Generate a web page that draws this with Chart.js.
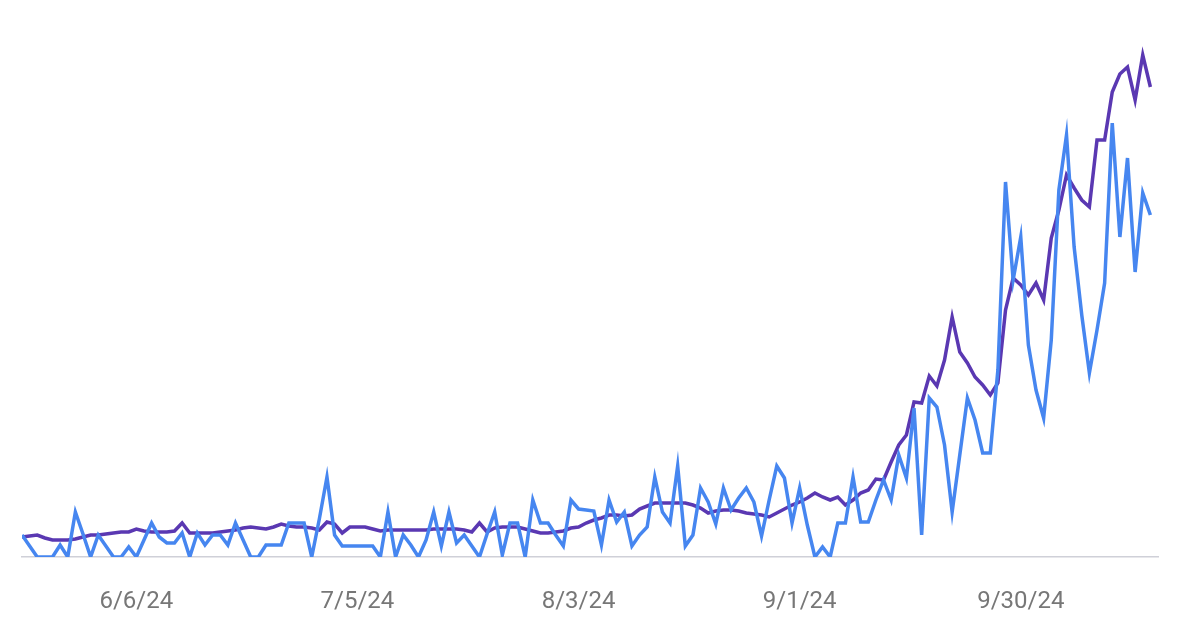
<!DOCTYPE html>
<html>
<head>
<meta charset="utf-8">
<script src="https://cdn.jsdelivr.net/npm/chart.js@4.4.1/dist/chart.umd.min.js"></script>
<style>
  html, body { margin: 0; padding: 0; background: #fff; }
  #wrap { width: 1184px; height: 638px; }
</style>
</head>
<body>
<div id="wrap"><canvas id="chart" width="1184" height="638"></canvas></div>
<script>
// Daily categories: 5/22/24 .. 10/17/24
const startDate = new Date(2024, 4, 22);
const dayCount = 149;
const dates = [];
for (let i = 0; i < dayCount; i++) {
    const d = new Date(startDate);
    d.setDate(d.getDate() + i);
    dates.push(`${d.getMonth() + 1}/${d.getDate()}/${String(d.getFullYear()).slice(2)}`);
}

// Dates shown on the x axis
const tickLabels = ['6/6/24', '7/5/24', '8/3/24', '9/1/24', '9/30/24'];

// Blue series (daily values)
const blueSeries = [
    22, 11, 0, 0, 0, 12, 0, 45, 23, 0,
    22, 11, 0, 0, 10, 0, 17, 34, 20, 14,
    14, 24, 0, 24, 12, 22, 22, 12, 34, 17,
    0, 0, 12, 12, 12, 34, 34, 34, 0, 38,
    80, 22, 11, 11, 11, 11, 11, 0, 45, 0,
    22, 12, 0, 17, 45, 11, 45, 14, 22, 11,
    0, 23, 45, 2, 34, 34, 0, 57, 34, 34,
    22, 11, 57, 48, 47, 46, 12, 57, 35, 45,
    11, 22, 30, 80, 45, 34, 91, 11, 22, 69,
    55, 33, 69, 47, 59, 69, 55, 21, 57, 91,
    79, 34, 69, 32, 0, 10, 0, 34, 34, 80,
    35, 35, 57, 77, 57, 102, 79, 149, 22, 159,
    150, 112, 45, 102, 159, 137, 104, 104, 187, 375,
    277, 320, 212, 167, 139, 217, 367, 422, 310, 242,
    184, 227, 274, 434, 320, 399, 285, 364, 342
];

// Purple series (daily values)
const purpleSeries = [
    20, 21, 22, 19, 17, 17, 17, 18, 20, 22,
    22, 23, 24, 25, 25, 28, 26, 25, 25, 25,
    26, 34, 24, 24, 24, 24, 25, 26, 27, 29,
    30, 29, 28, 30, 33, 31, 30, 30, 29, 27,
    35, 33, 24, 30, 30, 30, 28, 26, 27, 27,
    27, 27, 27, 27, 28, 28, 28, 28, 27, 25,
    34, 25, 29, 30, 30, 30, 28, 26, 24, 24,
    25, 26, 29, 30, 34, 37, 39, 42, 42, 41,
    42, 48, 51, 54, 54, 54, 54, 54, 52, 49,
    44, 46, 47, 47, 46, 44, 43, 42, 40, 44,
    48, 52, 55, 59, 64, 60, 57, 60, 52, 57,
    64, 67, 78, 77, 95, 112, 122, 155, 154, 181,
    171, 197, 240, 205, 194, 180, 172, 162, 174, 247,
    279, 272, 262, 274, 257, 319, 347, 382, 369, 357,
    350, 417, 417, 465, 483, 490, 457, 502, 470
];

const toPoints = values => values.map((v, i) => ({ x: i, y: v }));

const chart = new Chart(document.getElementById('chart'), {
    type: 'line',
    data: {
        datasets: [
            {
                label: 'Blue',
                data: toPoints(blueSeries),
                borderColor: '#4686f0',
                borderWidth: 3.5,
                pointRadius: 0,
                tension: 0,
                fill: false
            },
            {
                label: 'Purple',
                data: toPoints(purpleSeries),
                borderColor: '#5a38b2',
                borderWidth: 3.5,
                pointRadius: 0,
                tension: 0,
                fill: false
            }
        ]
    },
    options: {
        responsive: false,
        animation: false,
        layout: {
            padding: { left: 22, right: 26, top: 45, bottom: 0 }
        },
        plugins: {
            legend: { display: false },
            tooltip: { enabled: false }
        },
        scales: {
            x: {
                type: 'linear',
                min: 0,
                max: dayCount,
                grid: { display: false, drawTicks: false },
                border: { display: true, color: '#cfd0d8', width: 1.5 },
                afterBuildTicks: scale => {
                    scale.ticks = tickLabels.map(l => ({ value: dates.indexOf(l) }));
                },
                afterFit: scale => {
                    scale.height = 81;
                },
                ticks: {
                    autoSkip: false,
                    maxRotation: 0,
                    padding: 31,
                    color: '#777777',
                    font: { family: 'Roboto', size: 24 },
                    callback: value => dates[value]
                }
            },
            y: {
                display: false,
                min: 0,
                max: 512
            }
        }
    }
});
</script>
</body>
</html>
